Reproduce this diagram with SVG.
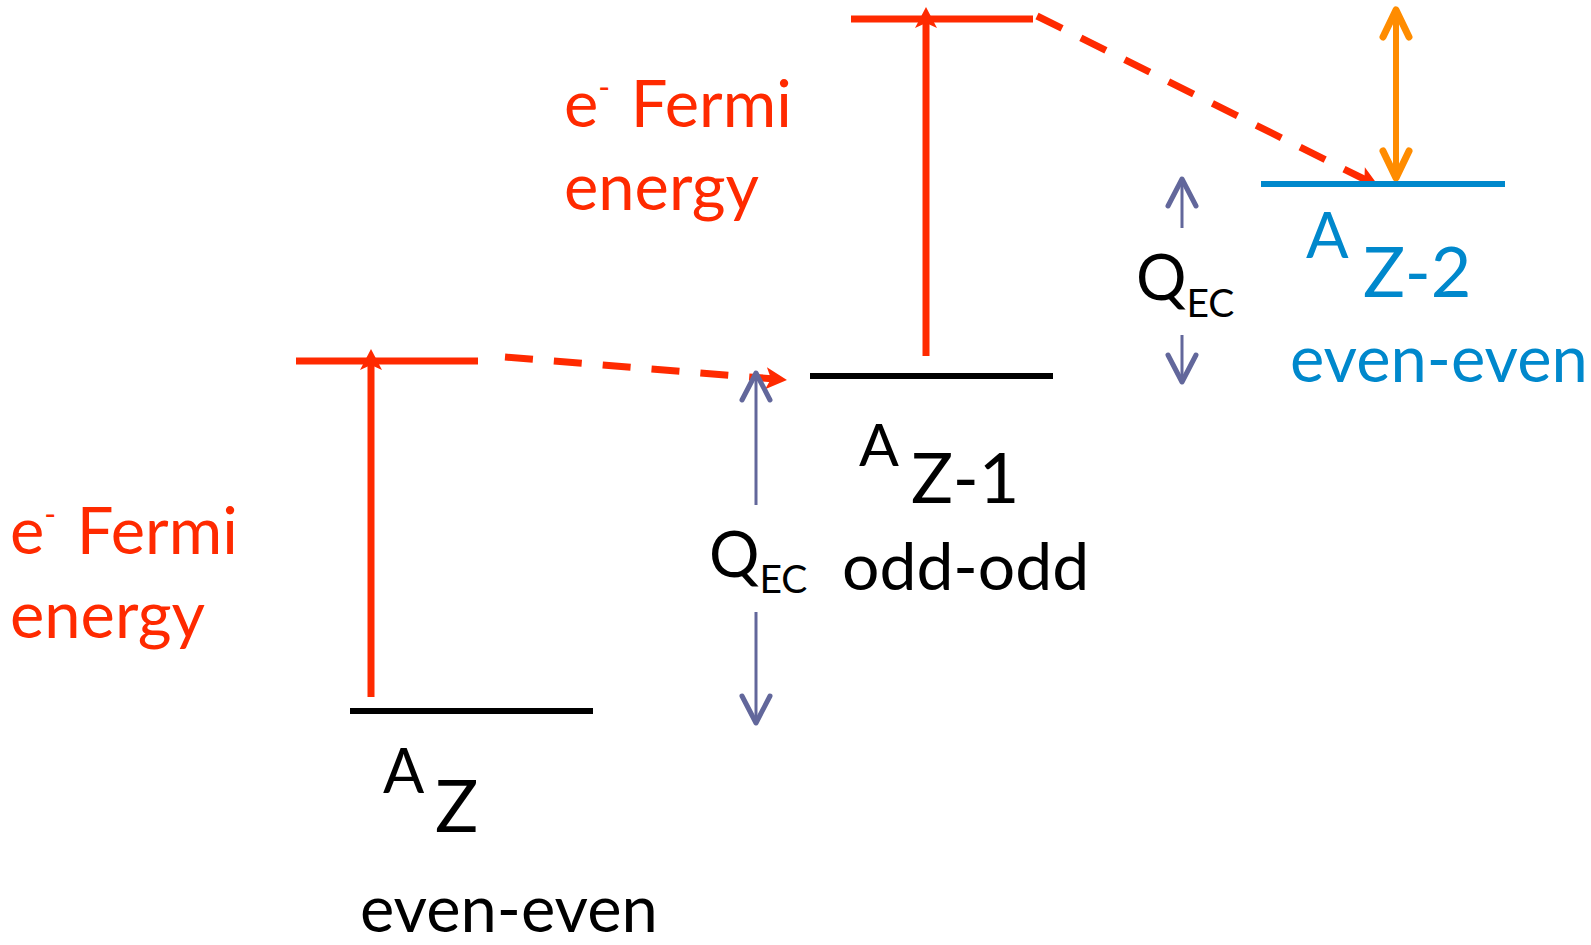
<svg xmlns="http://www.w3.org/2000/svg" width="1591" height="945" viewBox="0 0 1591 945">
<style>
.t{font-family:Lato,"Open Sans","Liberation Sans",sans-serif;}
.red{fill:#ff2a00;}
.blk{fill:#000;}
.blu{fill:#0088cc;}
.lvl{stroke-width:6;fill:none;}
.rl{stroke:#ff2a00;stroke-width:7;fill:none;}
.rd{stroke:#ff2a00;stroke-width:7;fill:none;stroke-dasharray:28 21;}
.pq{stroke:#62679b;stroke-width:3;fill:none;}
.or{stroke:#ff8c00;stroke-width:6;fill:none;}
</style>
<defs>
<marker id="rh" markerUnits="userSpaceOnUse" viewBox="-12 -13 26 26" refX="0" refY="0" markerWidth="26" markerHeight="26" orient="auto">
<path d="M12,0 L-9,-11 L-4,0 L-9,11 Z" fill="#ff2a00"/>
</marker>
<marker id="ph" markerUnits="userSpaceOnUse" viewBox="-32 -20 36 40" refX="0" refY="0" markerWidth="36" markerHeight="40" orient="auto">
<path d="M-27,-14 L0,0 L-27,14" fill="none" stroke="#62679b" stroke-width="5" stroke-linecap="round" stroke-linejoin="round"/>
</marker>
<marker id="oh" markerUnits="userSpaceOnUse" viewBox="-32 -20 36 40" refX="0" refY="0" markerWidth="36" markerHeight="40" orient="auto-start-reverse">
<path d="M-27,-13 L0,0 L-27,13" fill="none" stroke="#ff8c00" stroke-width="7" stroke-linecap="round" stroke-linejoin="round"/>
</marker>
</defs>

<g id="connectors">
<line class="rl" x1="371" y1="697" x2="371" y2="361" marker-end="url(#rh)"/>
<line class="rl" x1="926" y1="356" x2="926" y2="19" marker-end="url(#rh)"/>
<line class="rd" x1="505" y1="357" x2="775" y2="379" marker-end="url(#rh)"/>
<line class="rd" x1="1037" y1="16" x2="1368" y2="181" marker-end="url(#rh)"/>
<line class="pq" x1="756" y1="505" x2="756" y2="373" marker-end="url(#ph)"/>
<line class="pq" x1="756" y1="612" x2="756" y2="723" marker-end="url(#ph)"/>
<line class="pq" x1="1182" y1="228" x2="1182" y2="179" marker-end="url(#ph)"/>
<line class="pq" x1="1182" y1="335" x2="1182" y2="382" marker-end="url(#ph)"/>
<line class="or" x1="1396" y1="10" x2="1396" y2="178" marker-start="url(#oh)" marker-end="url(#oh)"/>
</g>

<g id="fermi-az">
<line class="rl" x1="296" y1="361" x2="478" y2="361"/>
<text class="t red" x="10" y="554" font-size="65">e<tspan font-size="32" dy="-28">-</tspan><tspan dy="28" dx="4"> Fermi</tspan></text>
<text class="t red" x="10" y="638" font-size="65">energy</text>
</g>

<g id="fermi-az1">
<line class="rl" x1="851" y1="19" x2="1033" y2="19"/>
<text class="t red" x="564" y="127" font-size="65">e<tspan font-size="32" dy="-28">-</tspan><tspan dy="28" dx="4"> Fermi</tspan></text>
<text class="t red" x="564" y="210" font-size="65">energy</text>
</g>

<g id="node-az">
<line class="lvl" stroke="#000" x1="350" y1="711" x2="593" y2="711"/>
<text class="t blk" x="383" y="793" font-size="61">A</text>
<text class="t blk" x="435" y="832" font-size="72">Z</text>
<text class="t blk" x="360" y="932" font-size="65">even-even</text>
</g>

<g id="node-az1">
<line class="lvl" stroke="#000" x1="810" y1="376" x2="1053" y2="376"/>
<text class="t blk" x="859" y="466" font-size="59">A</text>
<text class="t blk" x="911" y="503" font-size="70">Z-1</text>
<text class="t blk" x="842" y="590" font-size="66">odd-odd</text>
</g>

<g id="node-az2">
<line class="lvl" stroke="#0088cc" x1="1261" y1="184" x2="1505" y2="184"/>
<text class="t blu" x="1306" y="258" font-size="63">A</text>
<text class="t blu" x="1363" y="297" font-size="70">Z-2</text>
<text class="t blu" x="1290" y="382" font-size="65">even-even</text>
</g>

<g id="qec-1">
<text class="t blk" x="709" y="577" font-size="63">Q<tspan font-size="39" dy="16">EC</tspan></text>
</g>
<g id="qec-2">
<text class="t blk" x="1136" y="300" font-size="63">Q<tspan font-size="39" dy="17">EC</tspan></text>
</g>
</svg>
